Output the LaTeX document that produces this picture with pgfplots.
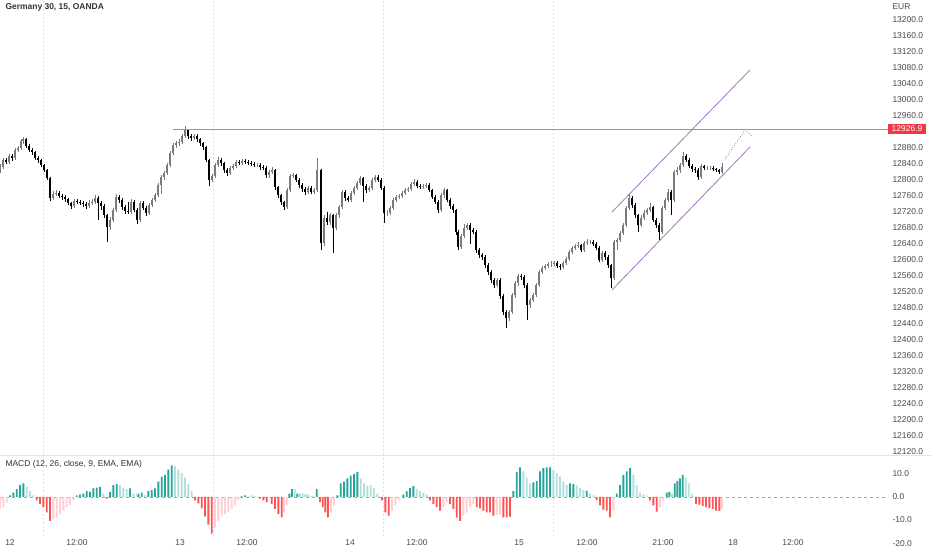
\documentclass[border=0pt]{standalone}
\usepackage{fontspec}
\setmainfont{Liberation Sans}
\usepackage{pgfplots}
\usepackage{pgfplotstable}
\pgfplotsset{compat=1.18}
\definecolor{mdt}{HTML}{26A69A}
\definecolor{mlt}{HTML}{B2DFDB}
\definecolor{mrd}{HTML}{FF5252}
\definecolor{mpk}{HTML}{FFCDD2}
\definecolor{mgrid}{HTML}{E0E3EB}
\definecolor{mtxt}{HTML}{4A4A4A}
\definecolor{mchan}{HTML}{A873C4}
\definecolor{mup}{HTML}{7A7A7A}
\definecolor{mredbox}{HTML}{F23645}
\tikzset{lbl/.style={font=\fontsize{8.5}{10}\selectfont, text=mtxt}}
\pgfplotsset{
  upfilter/.style={restrict expr to domain={\thisrow{c}-\thisrow{o}}{0:100000}},
  downfilter/.style={restrict expr to domain={\thisrow{o}-\thisrow{c}}{0.01:100000}},
}
\pgfplotstableread{
x o h l c
0 12825 12840 12818 12832.5
3 12832.5 12855 12828 12850
6 12850 12856 12840 12845
9 12845 12866 12840 12860
12 12860 12865 12848 12855
15 12855 12880 12850 12875
18 12875 12886 12870 12880
21 12880 12903 12876 12897.5
23 12897.5 12907 12890 12902.5
26 12902.5 12906 12880 12885
29 12885 12889 12870 12875
32 12875 12880 12862 12870
35 12870 12873 12850 12855
38 12855 12860 12843 12850
41 12850 12853 12832 12837.5
44 12837.5 12840 12820 12825
47 12825 12828 12800 12805
50 12805 12808 12748 12755
53 12755 12772 12750 12765
56 12765 12775 12760 12767.5
59 12767.5 12772 12755 12760
62 12760 12765 12750 12757.5
65 12757.5 12762 12745 12752.5
68 12752.5 12756 12737 12742.5
71 12742.5 12746 12728 12735
74 12735 12752 12730 12747.5
77 12747.5 12752 12740 12745
80 12745 12750 12737 12742.5
83 12742.5 12747 12733 12740
86 12740 12744 12728 12735
89 12735 12750 12730 12742.5
92 12742.5 12752 12737 12745
95 12745 12762 12740 12755
98 12755 12760 12700 12742.5
101 12742.5 12747 12725 12735
104 12735 12740 12705 12712.5
107 12712.5 12716 12645 12682.5
110 12682.5 12708 12675 12700
113 12700 12730 12695 12725
116 12725 12765 12720 12757.5
119 12757.5 12762 12742 12750
122 12750 12755 12726 12732.5
125 12732.5 12737 12716 12722.5
128 12722.5 12745 12714 12720
131 12720 12752 12715 12745
134 12745 12750 12720 12725
137 12725 12730 12690 12700
140 12700 12748 12695 12742.5
143 12742.5 12748 12724 12730
146 12730 12735 12710 12717.5
149 12717.5 12742 12712 12737.5
152 12737.5 12756 12732 12750
155 12750 12768 12745 12762.5
158 12762.5 12793 12757 12787.5
161 12787.5 12813 12765 12807.5
164 12807.5 12823 12800 12817.5
167 12817.5 12842 12812 12837.5
170 12837.5 12872 12832 12867.5
173 12867.5 12893 12862 12887.5
176 12887.5 12898 12880 12892.5
179 12892.5 12902 12886 12895
182 12895 12916 12890 12910
185 12910 12935 12905 12925
188 12925 12928 12902 12910
191 12910 12915 12898 12905
194 12905 12916 12900 12910
197 12910 12914 12896 12902.5
200 12902.5 12906 12886 12892.5
203 12892.5 12896 12876 12882.5
206 12882.5 12886 12845 12850
209 12850 12853 12785 12800
212 12800 12816 12795 12810
215 12810 12843 12805 12837.5
218 12837.5 12857 12832 12850
221 12850 12855 12836 12842.5
224 12842.5 12846 12818 12825
227 12825 12830 12810 12817.5
230 12817.5 12835 12812 12830
233 12830 12840 12825 12835
236 12835 12850 12830 12845
239 12845 12850 12837 12842.5
242 12842.5 12852 12838 12847.5
245 12847.5 12852 12840 12845
248 12845 12850 12838 12842.5
251 12842.5 12847 12835 12840
254 12840 12844 12832 12837.5
257 12837.5 12843 12832 12837.5
260 12837.5 12842 12826 12832.5
263 12832.5 12838 12824 12830
266 12830 12834 12806 12812.5
269 12812.5 12826 12806 12820
272 12820 12832 12815 12825
275 12825 12828 12776 12782.5
278 12782.5 12786 12756 12762.5
281 12762.5 12766 12738 12745
284 12745 12748 12725 12732.5
287 12732.5 12780 12728 12775
290 12775 12815 12770 12810
293 12810 12818 12804 12812.5
296 12812.5 12816 12794 12800
299 12800 12804 12780 12787.5
302 12787.5 12792 12770 12777.5
305 12777.5 12782 12763 12770
308 12770 12786 12765 12780
311 12780 12784 12764 12770
314 12770 12780 12765 12775
317 12775 12855 12770 12825
321 12825 12828 12625 12642.5
324 12642.5 12712 12636 12705
327 12705 12720 12688 12695
330 12695 12718 12688 12712.5
333 12712.5 12716 12617.5 12680
336 12680 12718 12675 12712.5
339 12712.5 12738 12706 12732.5
342 12732.5 12776 12728 12770
345 12770 12774 12748 12755
348 12755 12760 12744 12750
351 12750 12773 12745 12767.5
354 12767.5 12786 12762 12780
357 12780 12798 12775 12792.5
360 12792.5 12810 12788 12805
363 12805 12808 12745 12785
366 12785 12790 12768 12775
369 12775 12786 12770 12780
372 12780 12806 12775 12800
375 12800 12812 12795 12807.5
378 12807.5 12812 12794 12800
381 12800 12804 12774 12780
384 12780 12784 12692.5 12717.5
387 12717.5 12724 12710 12717.5
390 12717.5 12736 12712 12730
393 12730 12756 12725 12750
396 12750 12762 12745 12757.5
399 12757.5 12766 12752 12760
402 12760 12772 12755 12767.5
405 12767.5 12780 12762 12775
408 12775 12783 12770 12777.5
411 12777.5 12795 12772 12790
414 12790 12802 12786 12795
417 12795 12800 12780 12785
420 12785 12790 12777 12782.5
423 12782.5 12791 12778 12785
426 12785 12793 12780 12787.5
429 12787.5 12792 12770 12775
432 12775 12778 12752 12757.5
435 12757.5 12762 12740 12745
438 12745 12749 12718 12725
441 12725 12768 12720 12762.5
444 12762.5 12780 12756 12775
447 12775 12778 12744 12750
450 12750 12754 12728 12735
453 12735 12740 12718 12725
456 12725 12728 12662 12670
458 12670 12674 12625 12632.5
461 12632.5 12666 12627 12660
464 12660 12690 12655 12680
467 12680 12693 12674 12687.5
470 12687.5 12692 12640 12675
473 12675 12680 12664 12670
476 12670 12674 12618 12625
479 12625 12630 12606 12612.5
482 12612.5 12618 12600 12607.5
485 12607.5 12612 12580 12587.5
488 12587.5 12592 12563 12570
491 12570 12574 12543 12550
494 12550 12555 12530 12537.5
497 12537.5 12556 12532 12550
500 12550 12554 12503 12510
503 12510 12514 12462 12470
506 12470 12475 12430 12455
509 12455 12476 12448 12470
512 12470 12518 12465 12512.5
515 12512.5 12548 12506 12542.5
518 12542.5 12566 12536 12560
521 12560 12565 12550 12557.5
524 12557.5 12562 12530 12537.5
527 12537.5 12542 12450 12487.5
530 12487.5 12506 12480 12500
533 12500 12518 12494 12512.5
536 12512.5 12543 12507 12537.5
539 12537.5 12576 12532 12570
542 12570 12586 12564 12580
545 12580 12591 12575 12585
548 12585 12596 12580 12590
551 12590 12597 12583 12590
554 12590 12598 12585 12592.5
557 12592.5 12597 12579 12585
560 12585 12590 12576 12582.5
563 12582.5 12598 12577 12592.5
566 12592.5 12608 12587 12602.5
569 12602.5 12626 12597 12620
572 12620 12636 12615 12630
575 12630 12641 12625 12635
578 12635 12644 12630 12637.5
581 12637.5 12641 12619 12625
584 12625 12648 12620 12642.5
587 12642.5 12652 12637 12645
590 12645 12651 12639 12645
593 12645 12650 12634 12640
596 12640 12644 12624 12630
599 12630 12634 12594 12600
602 12600 12623 12595 12617.5
605 12617.5 12622 12601 12607.5
608 12607.5 12612 12580 12587.5
611 12587.5 12591 12530 12555
614 12555 12650 12550 12645
617 12645 12656 12625 12650
620 12650 12673 12645 12667.5
623 12667.5 12693 12662 12687.5
626 12687.5 12736 12682 12730
629 12730 12765 12725 12755
632 12755 12760 12731 12737.5
635 12737.5 12742 12706 12712.5
638 12712.5 12716 12670 12687.5
641 12687.5 12712 12682 12705
644 12705 12724 12700 12717.5
647 12717.5 12731 12712 12725
650 12725 12742 12720 12732.5
653 12732.5 12736 12694 12700
656 12700 12705 12680 12687.5
659 12687.5 12692 12650 12670
662 12670 12736 12665 12730
665 12730 12756 12724 12750
668 12750 12778 12745 12770
671 12770 12774 12712 12750
674 12750 12826 12745 12820
677 12820 12832 12812 12825
680 12825 12843 12818 12837.5
683 12837.5 12870 12832 12860
686 12860 12864 12844 12850
689 12850 12854 12829 12835
692 12835 12839 12821 12827.5
695 12827.5 12832 12818 12825
698 12825 12829 12800 12807.5
701 12807.5 12840 12802 12835
704 12835 12838 12825 12830
707 12830 12836 12825 12830
710 12830 12835 12825 12830
713 12830 12834 12822 12827.5
716 12827.5 12831 12820 12825
719 12825 12828 12814 12820
722 12820 12842 12815 12832.5
}\candles
\begin{document}
\begin{tikzpicture}
\useasboundingbox (0,0) rectangle (932bp,550bp);
\fill[white] (0,0) rectangle (932bp,550bp);
% ---------- price panel ----------
\begin{axis}[
  at={(0,95bp)}, anchor=south west, scale only axis,
  width=888bp, height=455bp,
  xmin=0, xmax=888, ymin=12112.5, ymax=13250,
  axis line style={draw=none}, major tick length=0pt,
  xtick={43,213,383,553}, xticklabels={},
  xmajorgrids, grid style={mgrid, dash pattern=on 2bp off 2bp, line width=0.5bp},
  scaled y ticks=false,
  ytick={12120,12160,...,13200},
  yticklabel pos=right,
  yticklabel style={lbl, anchor=west, xshift=1bp,
    /pgf/number format/fixed, /pgf/number format/fixed zerofill,
    /pgf/number format/precision=1, /pgf/number format/1000 sep={},
    /pgf/number format/assume math mode=true},
]
\addplot[draw=mchan, line width=0.8bp] coordinates {(612,12720) (750,13075)};
\addplot[draw=mchan, line width=0.8bp] coordinates {(612,12525) (750,12882.5)};
\addplot[draw=black!65, dotted, line width=0.7bp] coordinates {(725,12852.5) (745,12925) (752,12910)};
% up candles
\addplot[draw=none, mark=none, forget plot, upfilter,
  error bars/.cd, y dir=plus, y explicit, error mark=none,
  error bar style={draw=mup, line width=0.5bp}]
  table[x=x, y=l, y error expr=\thisrow{h}-\thisrow{l}] {\candles};
\addplot[draw=none, mark=none, forget plot, upfilter,
  error bars/.cd, y dir=plus, y explicit, error mark=none,
  error bar style={draw=mup, line width=1.6bp}]
  table[x=x, y=o, y error expr=\thisrow{c}-\thisrow{o}] {\candles};
% down candles
\addplot[draw=none, mark=none, forget plot, downfilter,
  error bars/.cd, y dir=plus, y explicit, error mark=none,
  error bar style={draw=black, line width=0.5bp}]
  table[x=x, y=l, y error expr=\thisrow{h}-\thisrow{l}] {\candles};
\addplot[draw=none, mark=none, forget plot, downfilter,
  error bars/.cd, y dir=plus, y explicit, error mark=none,
  error bar style={draw=black, line width=1.6bp}]
  table[x=x, y=c, y error expr=\thisrow{o}-\thisrow{c}] {\candles};
% resistance line
\addplot[draw={rgb,255:red,242;green,110;blue,122}, solid, mark=none, line width=1.1bp] coordinates {(173,12926.9) (888,12926.9)};
\end{axis}
% ---------- MACD panel ----------
\begin{axis}[
  at={(0,14bp)}, anchor=south west, scale only axis,
  width=888bp, height=80bp,
  xmin=0, xmax=888, ymin=-17, ymax=17.83,
  axis line style={draw=none}, major tick length=0pt,
  xtick={10,77,180,247,350,417,519,587,663,733,793},
  xticklabels={12,12:00,13,12:00,14,12:00,15,12:00,21:00,18,12:00},
  xticklabel style={lbl},
  extra x ticks={43,213,383,553}, extra x tick labels={},
  extra x tick style={grid=major},
  grid style={mgrid, dash pattern=on 2bp off 2bp, line width=0.5bp},
  ytick={-10,0,10},
  yticklabel pos=right,
  yticklabel style={lbl, anchor=west, xshift=1bp,
    /pgf/number format/fixed, /pgf/number format/fixed zerofill,
    /pgf/number format/precision=1,
    /pgf/number format/assume math mode=true},
]
\addplot[draw=black!35, dash pattern=on 3bp off 3bp, line width=0.6bp] coordinates {(0,0) (888,0)};
\addplot[ybar, bar shift=0pt, bar width=1.9bp, fill=mdt, draw=none] coordinates {
(10,0.7)(13.3,1.9)(16.7,3.4)(20,5.2)(23.3,5.9)
(76.7,0.7)(80,1.0)(83.3,1.5)(86.7,2.5)(90,2.2)(93.3,3.7)(96.7,4.1)(100,4.4)
(110,2.2)(113.3,5.2)(116.7,5.6)(130,3.7)(138.3,1.5)(141.7,1.9)
(148.3,2.5)(151.7,3.0)(155,3.7)(158.3,6.7)(161.7,8.9)(165,9.6)(168.3,11.9)(171.7,13.8)
(241.7,0.3)(245,0.7)
(289.3,1.5)(292,3.4)(297.3,1.5)(316.7,3.4)
(337.3,0.7)(340.7,5.9)(344,6.7)(347.3,8.1)(350.7,9.3)(354,9.9)(357.3,10.8)
(403.3,1.0)(406.7,2.5)(410,4.0)(413.3,4.7)
(513.3,2.5)(516.7,10.8)(520,12.9)
(533.3,6.4)(536.7,7.0)(540,11.1)(543.3,12.6)(546.7,12.9)(550,12.9)
(570,5.9)(573.3,5.6)(586.7,2.7)
(616.7,1.5)(620,5.2)(623.3,9.6)(626.7,11.1)(630,12.6)
(666.7,1.9)(669.3,2.2)
(674.7,5.9)(677.3,7.0)(680,8.1)(682.7,9.6)
};
\addplot[ybar, bar shift=0pt, bar width=1.9bp, fill=mlt, draw=none] coordinates {
(26.7,4.4)(30,2.5)(33.3,0.7)(103.3,1.5)
(120,5.2)(123.3,4.0)(126.7,3.4)(133.3,1.5)(136.7,1.0)(145,0.7)
(175,13.3)(178.3,11.9)(181.7,10.4)(185,8.4)(188.3,5.5)(191.7,2.5)
(248.3,0.5)(251.7,0.7)(255,0.3)
(294.7,3.4)(300,1.5)(302.7,1.5)(305.3,1.2)(308,1.0)(310.7,0.5)(313.3,0.3)
(360.7,8.1)(364,5.9)(367.3,4.9)(370.7,5.2)(374,3.7)(377.3,1.5)
(416.7,3.4)(420,2.5)(423.3,1.9)(426.7,1.0)
(523.3,11.1)(526.7,8.4)(530,5.9)
(553.3,11.9)(556.7,10.4)(560,8.9)(563.3,6.7)(566.7,5.2)
(576.7,5.0)(580,4.0)(583.3,3.0)(590,1.5)(593.3,0.7)
(633.3,9.6)(636.7,5.2)(640,1.9)(643.3,1.0)(646.7,0.6)
(672,1.5)(685.7,8.4)(688.7,5.9)(691.7,1.5)
};
\addplot[ybar, bar shift=0pt, bar width=1.9bp, fill=mrd, draw=none] coordinates {
(36.7,-1.5)(40,-3.0)(43.3,-4.4)(46.7,-6.7)(50,-10.4)(106.7,-0.7)
(195,-1.5)(198.3,-2.8)(201.7,-5.0)(205,-8.5)(208.3,-12.0)(211.7,-16.0)
(260,-0.7)(263.3,-1.5)(266.7,-2.2)(271.7,-3.0)(275,-5.2)(278.3,-7.4)(281.7,-8.9)
(320,-2.2)(322.7,-4.4)(325.3,-6.7)(328,-8.9)
(382,-1.5)(385.3,-6.7)(388.7,-8.1)
(430,-1.5)(433.3,-3.0)(436.7,-4.4)(440,-6.0)
(450,-3.0)(453.3,-5.2)(456.7,-9.0)(460,-10.4)
(476.7,-4.4)(480,-5.0)(483.3,-5.9)(486.7,-6.7)(490,-6.7)(493.3,-8.1)
(503.3,-8.9)(506.7,-8.9)(510,-8.6)
(596.7,-1.5)(600,-3.7)(603.3,-5.5)(606.7,-5.9)(610,-8.9)
(650,-1.5)(653.3,-3.7)(656.7,-6.4)
(696,-3.0)(699.3,-3.3)(702.7,-4.0)(706,-4.4)(709.3,-4.9)(712.7,-5.2)(716,-5.9)(719.3,-6.1)
};
\addplot[ybar, bar shift=0pt, bar width=1.9bp, fill=mpk, draw=none] coordinates {
(0,-5.2)(3.3,-4.5)(6.7,-2.5)
(53.3,-9.6)(56.7,-8.9)(60,-7.4)(63.3,-5.9)(66.7,-4.4)(70,-3.4)(73.3,-1.5)
(215,-13.3)(218.3,-10.4)(221.7,-8.1)(225,-7.4)(228.3,-6.7)(231.7,-5.2)(235,-3.7)(238.3,-1.5)
(284,-6.7)(286.7,-3.7)(331,-6.7)(334,-3.7)
(392,-5.9)(395.3,-3.7)(398.7,-1.5)
(443.3,-4.4)(446.7,-2.2)
(463.3,-8.1)(466.7,-7.0)(470,-4.4)(473.3,-3.0)
(496.7,-7.9)(500,-7.6)(613.3,-5.9)(660,-4.4)(663.3,-1.5)(722,-5.2)
};
\end{axis}
% ---------- decorations ----------
\draw[mgrid, line width=0.8bp] (0,95bp) -- (932bp,95bp);
\node[anchor=west, font=\bfseries\fontsize{8.5}{10}\selectfont, text=black!80] at (2bp,543bp) {Germany 30, 15, OANDA};
\node[anchor=west, font=\fontsize{8.5}{10}\selectfont, text=black!80] at (2bp,86bp) {MACD (12, 26, close, 9, EMA, EMA)};
\node[anchor=west, lbl] at (889bp,543bp) {EUR};
\node[anchor=west, lbl] at (889bp,6.5bp) {-20.0};
\node[anchor=west, fill=mredbox, text=white, inner xsep=3.5bp, inner ysep=1.8bp, font=\fontsize{8.5}{10}\selectfont] at (888bp,421bp) {12926.9};
\end{tikzpicture}
\end{document}
